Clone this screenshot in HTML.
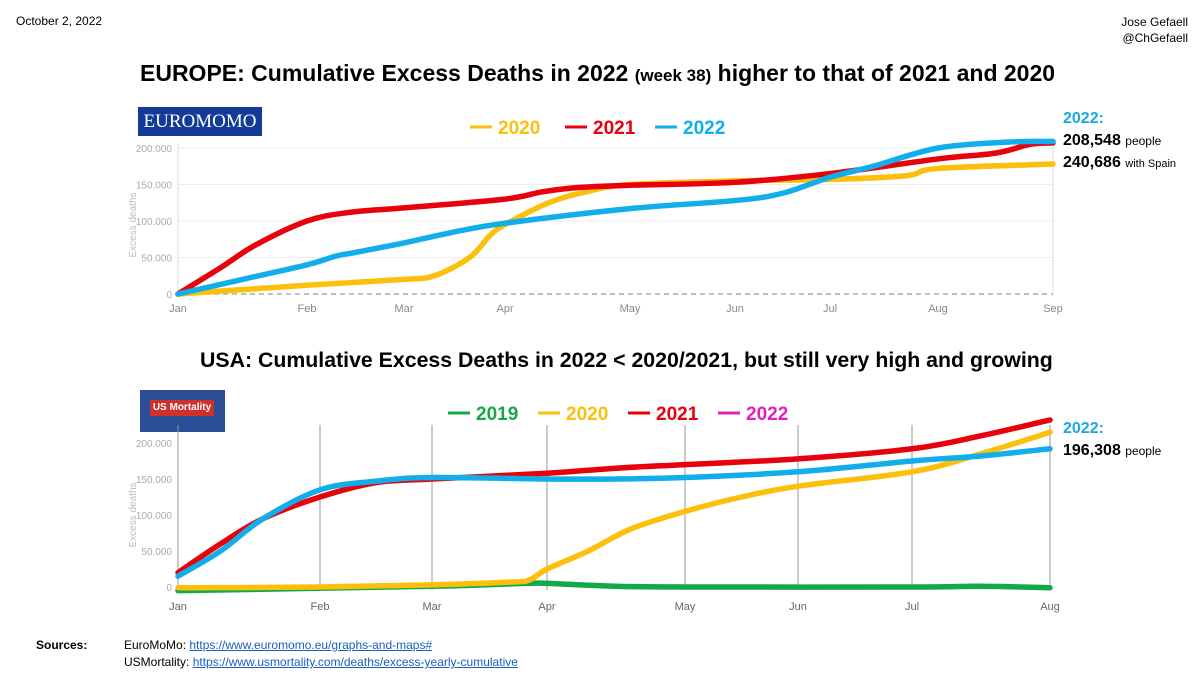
<!DOCTYPE html>
<html><head><meta charset="utf-8"><style>
body{margin:0;width:1200px;height:675px;background:#fff;font-family:"Liberation Sans",sans-serif;overflow:hidden;position:relative}
.t{position:absolute;white-space:nowrap}
</style></head><body>
<div class="t" style="left:16px;top:14px;font-size:12px">October 2, 2022</div>
<div class="t" style="right:12px;top:14px;font-size:12px;text-align:right;line-height:16px">Jose Gefaell<br>@ChGefaell</div>
<div class="t" style="left:140px;top:60px;font-size:23px;font-weight:bold">EUROPE: Cumulative Excess Deaths in 2022 <span style="font-size:17px">(week 38)</span> higher to that of 2021 and 2020</div>
<div class="t" style="left:200px;top:348px;font-size:21.3px;font-weight:bold">USA: Cumulative Excess Deaths in 2022 &lt; 2020/2021, but still very high and growing</div>
<div class="t" style="left:138px;top:107px;width:124px;height:29px;background:#123a96;color:#fff;font-family:'Liberation Serif',serif;font-size:19px;line-height:29px;text-align:center">EUROMOMO</div>
<div class="t" style="left:140px;top:390px;width:85px;height:42px;background:#2b4d95"><div style="position:absolute;left:10px;top:10px;width:64px;height:16px;background:#d0302a;color:#fff;font-size:10px;font-weight:bold;line-height:16px;text-align:center">US Mortality</div></div>
<div class="t" style="left:1063px;top:108px;line-height:22px;font-weight:bold;font-size:16px"><span style="color:#1aa7e0">2022:</span><br>208,548 <span style="font-weight:normal;font-size:12px">people</span><br>240,686 <span style="font-weight:normal;font-size:11px">with Spain</span></div>
<div class="t" style="left:1063px;top:418px;line-height:22px;font-weight:bold;font-size:16px"><span style="color:#1aa7e0">2022:</span><br>196,308 <span style="font-weight:normal;font-size:12px">people</span></div>
<div class="t" style="left:36px;top:637px;font-size:12px;line-height:17px"><b>Sources:</b><span style="position:absolute;left:88px;top:0">EuroMoMo: <u style="color:#1a5dc4">https://www.euromomo.eu/graphs-and-maps#</u><br>USMortality: <u style="color:#1a5dc4">https://www.usmortality.com/deaths/excess-yearly-cumulative</u></span></div>
<svg id="s" width="1200" height="675" style="position:absolute;left:0;top:0"></svg>
<script>
const euMonths=["Jan","Feb","Mar","Apr","May","Jun","Jul","Aug","Sep"];
const euX=[0,0.33,0.6,1,1.45,2,3,3.3,3.6,4,5,6,7,7.5,7.8,8];
const eu2021=[0,36,67,100,112,118,130,140,146,149,153,165,185,193,205,207];
const euX22=[0,0.5,1,1.3,1.5,2,2.5,3,4,5,5.5,6,6.4,7,7.6,8];
const eu2022=[0,20,40,52,57,70,85,97,117,128,138,160,175,200,208,209];
const euX20=[0,1,2,2.3,2.65,2.85,3,3.35,3.65,4,5,6,6.7,7,8];
const eu2020=[0,12,20,25,50,80,95,125,140,150,155,157,162,172,178];
const usMonths=["Jan","Feb","Mar","Apr","May","Jun","Jul","Aug"];
const usX=[0,0.3,0.6,1,1.5,2,3,3.5,4,5,6,6.5,7];
const us2021=[20,60,95,125,145,150,158,165,170,178,192,210,232];
const us2022=[15,50,95,135,147,152,150,150,152,160,175,182,192];
const usX20=[0,1,2,2.7,2.85,3,3.3,3.6,4,4.5,5,6,6.5,7];
const us2020=[-1,0,3,7,10,25,50,80,105,125,140,160,185,215];
const usX19=[0,2,2.8,3,3.5,4,6,6.5,7];
const us2019=[-5,1,5,5,1,0,0,1,-1];
const S=document.getElementById('s');const NS='http://www.w3.org/2000/svg';
function el(t,a,p){const e=document.createElementNS(NS,t);for(const k in a)e.setAttribute(k,a[k]);(p||S).appendChild(e);return e;}
function mk(px,y0,y200){return{x:m=>{const i=Math.min(Math.floor(m),px.length-2);return px[i]+(px[i+1]-px[i])*(m-i);},y:v=>y0+(y200-y0)*v/200};}
function path(xs,ys,ax){const p=xs.map((x,i)=>[ax.x(x),ax.y(ys[i])]);let d='M'+p[0];for(let i=0;i<p.length-1;i++){const a=p[i-1]||p[i],b=p[i],c=p[i+1],e=p[i+2]||c;d+=' C'+(b[0]+(c[0]-a[0])/6)+','+(b[1]+(c[1]-a[1])/6)+' '+(c[0]-(e[0]-b[0])/6)+','+(c[1]-(e[1]-b[1])/6)+' '+c;}return d;}
function series(xs,ys,ax,col,name){const e=el('path',{d:path(xs,ys,ax),fill:'none',stroke:col,'stroke-width':5.5,'stroke-linecap':'round','stroke-linejoin':'round'});

}
const Y='#fcbf0c',R='#e8000b',B='#12aeec',G='#14a84a';
const eu=mk([178,307,404,505,630,735,830,938,1053],294,148);
[50,100,150,200].forEach(v=>el('line',{x1:178,x2:1053,y1:eu.y(v),y2:eu.y(v),stroke:'#ececec'}));
el('line',{x1:178,x2:1053,y1:294,y2:294,stroke:'#aaa','stroke-dasharray':'5,4','stroke-width':1.5});
el('line',{x1:178,x2:178,y1:143,y2:296,stroke:'#ddd'});el('line',{x1:1053,x2:1053,y1:143,y2:296,stroke:'#ddd'});
[0,50,100,150,200].forEach(v=>{const t=el('text',{x:172,y:eu.y(v)+4,'text-anchor':'end','font-size':10,fill:'#aaa'});t.textContent=v?v+'.000':'0';});
euMonths.forEach((m,i)=>{const t=el('text',{x:eu.x(i),y:312,'text-anchor':'middle','font-size':11,fill:'#888'});t.textContent=m;});
let yt=el('text',{x:136,y:225,'font-size':10,fill:'#bbb',transform:'rotate(-90 136 225)','text-anchor':'middle'});yt.textContent='Excess deaths';
series(euX20,eu2020,eu,Y,'europe-2020-line');series(euX,eu2021,eu,R,'europe-2021-line');series(euX22,eu2022,eu,B,'europe-2022-line');
const us=mk([178,320,432,547,685,798,912,1050],587,443);
[178,320,432,547,685,798,912,1050].forEach(x=>el('line',{x1:x,x2:x,y1:425,y2:590,stroke:'#999'}));
[0,50,100,150,200].forEach(v=>{const t=el('text',{x:172,y:us.y(v)+4,'text-anchor':'end','font-size':10,fill:'#aaa'});t.textContent=v?v+'.000':'0';});
usMonths.forEach((m,i)=>{const t=el('text',{x:us.x(i),y:610,'text-anchor':'middle','font-size':11,fill:'#666'});t.textContent=m;});
yt=el('text',{x:136,y:515,'font-size':10,fill:'#bbb',transform:'rotate(-90 136 515)','text-anchor':'middle'});yt.textContent='Excess deaths';
series(usX19,us2019,us,G,'usa-2019-line');series(usX20,us2020,us,Y,'usa-2020-line');series(usX,us2021,us,R,'usa-2021-line');series(usX,us2022,us,B,'usa-2022-line');
function legend(items,y){items.forEach(([x,lab,c])=>{const g=el('g',{});


el('line',{x1:x,x2:x+22,y1:y-7,y2:y-7,stroke:c,'stroke-width':3},g);const t=el('text',{x:x+28,y:y,'font-size':19,'font-weight':'bold',fill:c},g);t.textContent=lab;});}
legend([[470,'2020',Y],[565,'2021',R],[655,'2022',B]],134);
legend([[448,'2019',G],[538,'2020',Y],[628,'2021',R],[718,'2022','#e020c0']],420);
</script>
</body></html>
